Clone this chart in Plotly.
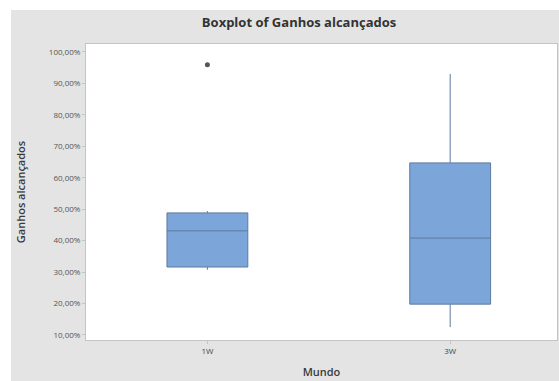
import plotly.graph_objects as go

# Summary statistics per group (fractions, shown as percentages)
categories = ["1W", "3W"]
q1 = [0.316, 0.198]
median = [0.431, 0.408]
q3 = [0.488, 0.647]
lower_whisker = [0.307, 0.125]
upper_whisker = [0.494, 0.930]

# Outlier points
outlier_x = ["1W"]
outlier_y = [0.959]

y_ticks = [0.1, 0.2, 0.3, 0.4, 0.5, 0.6, 0.7, 0.8, 0.9, 1.0]

W, H = 559, 381
L, R, T, B = 86, 2, 44, 41

fig = go.Figure()
fig.add_trace(go.Box(
    x=categories, q1=q1, median=median, q3=q3,
    lowerfence=lower_whisker, upperfence=upper_whisker,
    boxpoints=False, width=0.333, whiskerwidth=0,
    fillcolor="#7ca5da", line=dict(color="#5e7a9e", width=1),
    showlegend=False, hoverinfo="skip",
))
fig.add_trace(go.Scatter(
    x=outlier_x, y=outlier_y, mode="markers",
    marker=dict(symbol="circle", size=5, color="#555555"),
    showlegend=False, hoverinfo="skip",
))

pw = W - L - R
ph = H - T - B
# white strips along the top and left edges of the grey page
fig.add_shape(type="rect", xref="paper", yref="paper", layer="below",
              x0=-L / pw, x1=(W - L) / pw + 0.01,
              y0=(H - B - 10) / ph, y1=(H - B) / ph + 0.01,
              fillcolor="white", line_width=0)
fig.add_shape(type="rect", xref="paper", yref="paper", layer="below",
              x0=-L / pw - 0.01, x1=(11 - L) / pw,
              y0=-B / ph - 0.01, y1=(H - B) / ph + 0.01,
              fillcolor="white", line_width=0)

fig.update_layout(
    width=W, height=H,
    margin=dict(l=L, r=R, t=T, b=B),
    paper_bgcolor="#e4e4e4",
    plot_bgcolor="white",
    separators=",.",
    font=dict(family="Open Sans", color="#333333"),
    title=dict(text="<b>Boxplot of Ganhos alcançados</b>", xref="container",
               x=0.535, xanchor="center", y=1 - 22 / H, yanchor="middle",
               font=dict(size=13, color="#333333")),
    xaxis=dict(
        type="category", range=[-0.5, 1.44],
        title=dict(text="Mundo", font=dict(size=11, color="#3a3a3a", weight=600), standoff=13),
        tickfont=dict(size=8, color="#444444"),
        showline=True, mirror=True, linecolor="#c4c4c4", linewidth=1,
        ticks="outside", ticklen=3, tickcolor="#c4c4c4",
        showgrid=False, zeroline=False,
    ),
    yaxis=dict(
        range=[0.084, 1.025],
        tickmode="array", tickvals=y_ticks, tickformat=".2%",
        title=dict(text="Ganhos alcançados", font=dict(size=11, color="#3a3a3a", weight=600), standoff=20),
        tickfont=dict(size=8, color="#555555"),
        showline=True, mirror=True, linecolor="#c4c4c4", linewidth=1,
        ticks="outside", ticklen=3, tickcolor="#c4c4c4",
        showgrid=False, zeroline=False,
    ),
)

fig.write_html("out.html")
